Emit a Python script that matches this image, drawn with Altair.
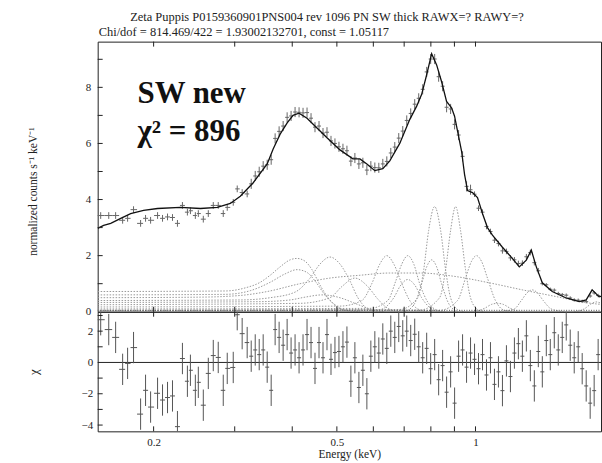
import altair as alt
import numpy as np
import pandas as pd

FONT = "Liberation Serif"
TITLE_1 = "Zeta Puppis P0159360901PNS004 rev 1096 PN SW thick RAWX=? RAWY=?"
TITLE_2 = "Chi/dof = 814.469/422 = 1.93002132701, const = 1.05117"
ANNOT_TEXT = ["SW new", "χ² = 896"]
ANNOT_E = [0.1845, 0.1845]
ANNOT_V = [7.43, 6.09]
Y_TITLE_TOP = "normalized counts s⁻¹ keV⁻¹"
Y_TITLE_RES = "χ"
X_TITLE = "Energy (keV)"

X_DOMAIN = [0.1512, 1.873]
Y_DOMAIN_TOP = [0, 9.63]
Y_DOMAIN_RES = [-4.4, 3.24]
X_TICKS = [0.2, 0.3, 0.4, 0.5, 0.6, 0.7, 0.8, 0.9, 1.0]
X_LABELS = [0.2, 0.5, 1]
Y_TICKS_TOP = [1, 2, 3, 4, 5, 6, 7, 8, 9]
Y_LABELS_TOP = [0, 2, 4, 6, 8]
Y_TICKS_RES = [-4, -3, -2, -1, 1, 2, 3]
Y_LABELS_RES = [-4, -2, 0, 2]

# observed spectrum (bin centre energy, normalized counts, error, chi residual)
data_e = [0.1535, 0.1598, 0.1654, 0.1713, 0.1756, 0.1809, 0.1874, 0.1921, 0.1970, 0.2040,
          0.2091, 0.2144, 0.2198, 0.2253, 0.2310, 0.2368, 0.2404, 0.2464, 0.2501, 0.2564,
          0.2629, 0.2695, 0.2763, 0.2833, 0.2890, 0.2978, 0.3038, 0.3114, 0.3193,
          0.3258, 0.3324, 0.3391, 0.3459, 0.3529, 0.3600, 0.3672, 0.3746, 0.3822, 0.3899,
          0.3977, 0.4057, 0.4139, 0.4222, 0.4307, 0.4394, 0.4482, 0.4573, 0.4665, 0.4759,
          0.4855, 0.4952, 0.5052, 0.5154, 0.5258, 0.5363, 0.5471, 0.5582, 0.5694, 0.5809,
          0.5926, 0.6045, 0.6167, 0.6291, 0.6418, 0.6547, 0.6679, 0.6813, 0.6951, 0.7091,
          0.7233, 0.7379, 0.7528, 0.7679, 0.7834, 0.7992, 0.8153, 0.8317, 0.8484, 0.8655,
          0.8830, 0.9008, 0.9189, 0.9374, 0.9563, 0.9755, 0.9952, 1.0152, 1.0357, 1.0565,
          1.0778, 1.0995, 1.1216, 1.1442, 1.1673, 1.1908, 1.2148, 1.2392, 1.2642, 1.2896,
          1.3156, 1.3421, 1.3691, 1.3967, 1.4248, 1.4535, 1.4828, 1.5127, 1.5431, 1.5742,
          1.6059, 1.6383, 1.6713, 1.7049, 1.7393, 1.7743, 1.8100, 1.8465]
data_v = [3.43, 3.43, 3.43, 3.26, 3.33, 3.64, 3.15, 3.33, 3.26, 3.43,
          3.33, 3.38, 3.36, 3.15, 3.79, 3.55, 3.60, 3.43, 3.50, 3.30,
          3.50, 3.79, 3.79, 3.50, 3.72, 3.90, 4.38, 4.25, 4.20,
          4.56, 4.84, 4.99, 5.19, 5.24, 5.42, 6.18, 6.43, 6.62, 6.93,
          6.98, 7.12, 7.11, 7.09, 7.10, 6.90, 6.58, 6.62, 6.37, 6.40,
          6.09, 6.00, 5.88, 5.81, 5.74, 5.37, 5.48, 5.27, 5.31, 5.05,
          5.19, 5.14, 5.13, 5.27, 5.36, 5.66, 5.87, 6.19, 6.44, 6.82,
          7.07, 7.40, 7.61, 7.93, 8.55, 9.01, 9.01, 8.38, 8.04, 7.29,
          7.23, 6.68, 6.30, 5.54, 4.47, 4.35, 4.19, 3.69, 3.55, 3.04,
          2.86, 2.55, 2.43, 2.17, 2.15, 1.92, 1.85, 1.72, 1.73, 1.96,
          2.11, 1.75, 1.46, 1.00, 0.96, 0.80, 0.77, 0.65, 0.61, 0.59,
          0.49, 0.42, 0.41, 0.37, 0.36, 0.56, 0.67, 0.58]
data_err = [0.12] * 29 + [0.18] * 56 + [0.10] * 17 + [0.06] * 15
chi_v = [2.73, 2.10, 1.60, -0.44, -0.06, 0.95, -3.30, -1.78, -2.85, -1.97,
         -2.40, -2.24, -2.14, -4.10, 0.25, -1.20, -0.50, -1.78, -1.27, -2.73,
         -0.70, 0.44, 0.32, -1.78, -0.38, -0.32, 3.05, 1.84, 1.27,
         0.4, 0.8, 0.5, 0.8, -0.3, -1.78, 2.1, 1.6, 1.1, 1.78,
         0.6, 0.8, 0.3, 0.8, 1.78, 1.27, -0.38, 1.27, 0.3, 1.78,
         0.2, 0.63, 0.7, 1.0, 1.3, -1.2, 0.3, -1.6, -0.5, -2.0,
         0.4, 1.0, 0.6, 1.5, 0.9, 2.0, 1.6, 2.3, 1.7, 2.0,
         1.4, 1.8, 1.0, 0.3, 0.9, -0.4, 0.5, -1.1, -0.2, -1.9,
         -0.6, -2.6, 0.4, 0.8, -0.3, 0.6, 0.2, -0.4, 0.5, -0.8,
         0.3, -1.4, -0.6, -1.8, 0.1, -0.9, 0.6, 1.2, 0.4, 1.7,
         -0.2, -1.5, 0.7, -0.6, 1.4, 0.5, 1.9, 0.8, 1.6, 2.4,
         1.1, 0.3, 1.0, -0.4, -1.5, -2.6, -1.8, 0.5]

# folded model
model_e = [0.1512, 0.1558, 0.1614, 0.1697, 0.1783, 0.1902, 0.2040, 0.2287, 0.2527, 0.2750,
           0.2935, 0.3085, 0.3291, 0.3529, 0.3636, 0.3765, 0.3900, 0.4016, 0.4138, 0.4307,
           0.4527, 0.4759, 0.5078, 0.5417, 0.5610, 0.5809, 0.6045, 0.6291, 0.6514, 0.6847,
           0.7197, 0.7452, 0.7640, 0.7834, 0.8031, 0.8234, 0.8441, 0.8653, 0.8872, 0.9006,
           0.9142, 0.9326, 0.9467, 0.9609, 0.9851, 1.0100, 1.0355, 1.0616, 1.0884, 1.1441,
           1.2023, 1.2447, 1.2893, 1.3218, 1.3554, 1.3966, 1.4678, 1.5736, 1.6797, 1.7393,
           1.7918, 1.8558, 1.8734]
model_v = [2.97, 3.08, 3.15, 3.33, 3.50, 3.61, 3.68, 3.72, 3.68, 3.72,
           3.86, 4.12, 4.60, 5.27, 5.80, 6.33, 6.73, 7.00, 7.08, 6.90,
           6.55, 6.20, 5.77, 5.45, 5.45, 5.27, 5.03, 5.10, 5.38, 6.00,
           6.85, 7.33, 7.75, 8.45, 9.20, 8.80, 8.20, 7.50, 7.27, 6.97,
           6.44, 5.73, 4.90, 4.32, 4.25, 4.07, 3.50, 3.00, 2.73, 2.30,
           1.90, 1.60, 1.84, 2.20, 1.60, 1.03, 0.72, 0.49, 0.36, 0.42,
           0.78, 0.53, 0.55]

# model components (dotted)
comp_e = [
    [0.1512, 0.2862, 0.3162, 0.3408, 0.3582, 0.3765, 0.3958, 0.4098, 0.4265, 0.4415, 0.4596, 0.4782, 0.4977, 0.5205, 0.5610],
    [0.1512, 0.2862, 0.3242, 0.3582, 0.3860, 0.4098, 0.4307, 0.4482, 0.4711, 0.4952, 0.5205, 0.5610],
    [0.1512, 0.2527, 0.3085, 0.3529, 0.4160, 0.4831, 0.5610, 0.6514, 0.7565, 0.9096, 1.0723, 1.2638, 1.4970, 1.7654, 1.8734],
    [0.1512, 0.3085, 0.3582, 0.4057, 0.4372, 0.4596, 0.4831, 0.5078, 0.5337, 0.5554, 0.5777, 0.6045, 0.6355],
    [0.1512, 0.4160, 0.4831, 0.5128, 0.5471, 0.5835, 0.6137, 0.6450, 0.6847],
    [0.1512, 0.5078, 0.5665, 0.5954, 0.6198, 0.6418, 0.6647, 0.6918, 0.7197, 0.7491, 0.7873],
    [0.1512, 0.5896, 0.6450, 0.6713, 0.6918, 0.7128, 0.7344, 0.7565, 0.7873, 0.8193, 0.8569],
    [0.1512, 0.6198, 0.6647, 0.6884, 0.7128, 0.7380, 0.7640, 0.7951, 0.8357],
    [0.1512, 0.6847, 0.7491, 0.7718, 0.7912, 0.8152, 0.8400, 0.8611, 0.8829, 0.9142, 0.9467],
    [0.1512, 0.7565, 0.8357, 0.8611, 0.8829, 0.9052, 0.9279, 0.9514, 0.9754, 1.0100, 1.0459],
    [0.7022, 0.7380, 0.7640, 0.7834, 0.8031, 0.8234, 0.8441, 0.8740, 0.9142],
    [0.1512, 0.8357, 0.9142, 0.9514, 0.9803, 1.0050, 1.0304, 1.0616, 1.1047, 1.1555, 1.2146],
    [1.1270, 1.2146, 1.2575, 1.2956, 1.3283, 1.3618, 1.4030, 1.4603, 1.5582],
    [1.6379, 1.7218, 1.7830, 1.8276, 1.8734],
    [0.9950, 1.0459, 1.0830, 1.1160, 1.1498, 1.1906, 1.2447],
    [0.1512, 0.3408, 0.3958, 0.4265, 0.4642, 0.5078, 0.5471, 0.5896, 0.6355],
]
comp_v = [
    [0.72, 0.74, 0.85, 1.05, 1.3, 1.6, 1.85, 1.9, 1.8, 1.5, 0.95, 0.5, 0.2, 0.05, 0.0],
    [0.6, 0.62, 0.75, 1.05, 1.35, 1.5, 1.4, 1.1, 0.6, 0.25, 0.06, 0.0],
    [0.5, 0.52, 0.58, 0.72, 1.0, 1.2, 1.3, 1.38, 1.38, 1.25, 1.03, 0.78, 0.54, 0.31, 0.26],
    [0.4, 0.42, 0.5, 0.7, 1.2, 1.7, 1.95, 1.7, 1.1, 0.5, 0.15, 0.02, 0.0],
    [0.25, 0.3, 0.5, 0.9, 1.2, 0.9, 0.45, 0.12, 0.0],
    [0.17, 0.2, 0.4, 1.0, 1.7, 2.0, 1.7, 1.0, 0.4, 0.1, 0.0],
    [0.1, 0.12, 0.4, 1.1, 1.7, 2.0, 1.7, 1.0, 0.35, 0.08, 0.0],
    [0.05, 0.08, 0.5, 0.95, 1.15, 0.95, 0.5, 0.15, 0.0],
    [0.05, 0.08, 0.5, 1.5, 2.9, 3.75, 2.9, 1.5, 0.5, 0.08, 0.0],
    [0.04, 0.06, 0.5, 1.5, 2.9, 3.75, 2.9, 1.5, 0.5, 0.08, 0.0],
    [0.0, 0.3, 1.0, 1.6, 1.85, 1.6, 1.0, 0.3, 0.0],
    [0.03, 0.05, 0.4, 1.2, 1.8, 2.0, 1.8, 1.2, 0.4, 0.05, 0.0],
    [0.0, 0.1, 0.4, 0.68, 0.78, 0.68, 0.4, 0.1, 0.0],
    [0.0, 0.1, 0.28, 0.35, 0.3],
    [0.0, 0.12, 0.26, 0.3, 0.26, 0.12, 0.0],
    [0.33, 0.36, 0.42, 0.52, 0.6, 0.5, 0.3, 0.1, 0.0],
]
baseline_e = [0.1512, 1.8734]
baseline_v = [0.05, 0.05]

W, H_TOP, H_RES = 505, 271, 120
TICK = 5
INK = "#222222"

# ---- tables -------------------------------------------------------------
e = np.array(data_e)
mids = np.sqrt(e[:-1] * e[1:])
lo = np.concatenate([[e[0] ** 2 / mids[0]], mids])
hi = np.concatenate([mids, [e[-1] ** 2 / mids[-1]]])
v = np.array(data_v)
err = np.array(data_err)
chi = np.array(chi_v)
df = pd.DataFrame({"e": e, "lo": lo, "hi": hi, "v": v, "vlo": v - err, "vhi": v + err,
                   "chi": chi, "clo": chi - 1, "chi_hi": chi + 1})
model_df = pd.DataFrame({"e": model_e, "v": model_v})
comp_df = pd.concat([pd.DataFrame({"c": i, "e": ce, "v": cv})
                     for i, (ce, cv) in enumerate(zip(comp_e, comp_v))], ignore_index=True)
base_df = pd.DataFrame({"e": baseline_e, "v": baseline_v})
annot_df = pd.DataFrame({"e": ANNOT_E, "v": ANNOT_V, "t": ANNOT_TEXT})
xt_df = pd.DataFrame({"e": X_TICKS})
ytt_df = pd.DataFrame({"v": Y_TICKS_TOP})
ytr_df = pd.DataFrame({"v": Y_TICKS_RES})

xscale = alt.Scale(type="log", domain=X_DOMAIN, nice=False)
ytop_scale = alt.Scale(domain=Y_DOMAIN_TOP, nice=False, zero=False)
yres_scale = alt.Scale(domain=Y_DOMAIN_RES, nice=False, zero=False)

ytop_axis = alt.Axis(values=Y_LABELS_TOP, title=Y_TITLE_TOP, titleX=-64, titleY=150,
                     titleAngle=270, titleAlign="center", titleBaseline="middle",
                     titleFontSize=11.5, labelPadding=7)
yres_axis = alt.Axis(values=Y_LABELS_RES, title=Y_TITLE_RES, titleX=-64, titleY=H_RES / 2,
                     titleAngle=270, titleAlign="center", titleBaseline="middle",
                     titleFontSize=13, labelPadding=5, format="d")
xres_axis = alt.Axis(values=X_LABELS, format="~g", title=X_TITLE, titleFontSize=11.5,
                     labelPadding=5, titlePadding=1, labelFlush=False)


def xtop(field):
    return alt.X(field, type="quantitative", scale=xscale, axis=None)


def ytop(field):
    return alt.Y(field, type="quantitative", scale=ytop_scale, axis=ytop_axis)


def xres(field):
    return alt.X(field, type="quantitative", scale=xscale, axis=xres_axis)


def yres(field):
    return alt.Y(field, type="quantitative", scale=yres_scale, axis=yres_axis)


# ---- top panel ------------------------------------------------------------
comps = alt.Chart(comp_df).mark_line(color="#9a9a9a", strokeWidth=1, strokeDash=[1.5, 1.5],
                                     interpolate="monotone", clip=True).encode(
    x=xtop("e"), y=ytop("v"), detail="c:N")
base = alt.Chart(base_df).mark_line(color="#555555", strokeWidth=1, strokeDash=[1, 1.5],
                                    clip=True).encode(x=xtop("e"), y=ytop("v"))
xbars = alt.Chart(df).mark_rule(color="#666666", strokeWidth=1, clip=True).encode(
    x=xtop("lo"), x2="hi", y=ytop("v"))
ybars = alt.Chart(df).mark_rule(color="#666666", strokeWidth=1, clip=True).encode(
    x=xtop("e"), y=ytop("vlo"), y2="vhi")
model = alt.Chart(model_df).mark_line(color="#111111", strokeWidth=1.3, clip=True).encode(
    x=xtop("e"), y=ytop("v"))
annot = alt.Chart(annot_df).mark_text(font="Liberation Serif, Times New Roman, serif", fontSize=31,
                                      fontWeight="bold", color="#111111",
                                      align="left", baseline="alphabetic").encode(
    x=xtop("e"), y=ytop("v"), text="t:N")
tt_top = alt.Chart(xt_df).mark_rule(color=INK).encode(x=xtop("e"), y=alt.value(0), y2=alt.value(TICK))
tt_bot = alt.Chart(xt_df).mark_rule(color=INK).encode(x=xtop("e"), y=alt.value(H_TOP), y2=alt.value(H_TOP - TICK))
tt_left = alt.Chart(ytt_df).mark_rule(color=INK).encode(y=ytop("v"), x=alt.value(0), x2=alt.value(TICK))
title1 = alt.Chart(pd.DataFrame({"t": [TITLE_1]})).mark_text(
    font=FONT, fontSize=12.5, color=INK, align="center", baseline="middle").encode(
    text="t:N", x=alt.value(230), y=alt.value(-25))
title2 = alt.Chart(pd.DataFrame({"t": [TITLE_2]})).mark_text(
    font=FONT, fontSize=12.5, color=INK, align="left", baseline="middle").encode(
    text="t:N", x=alt.value(1), y=alt.value(-10))

top = alt.layer(comps, base, xbars, ybars, model, annot, tt_top, tt_bot, tt_left,
                title1, title2).properties(width=W, height=H_TOP)

# ---- residual panel -------------------------------------------------------
zero = alt.Chart(pd.DataFrame({"z": [0]})).mark_rule(color=INK, strokeWidth=1).encode(y=yres("z"))
rx = alt.Chart(df).mark_rule(color="#555555", strokeWidth=1, clip=True).encode(
    x=xres("lo"), x2="hi", y=yres("chi"))
ry = alt.Chart(df).mark_rule(color="#555555", strokeWidth=1, clip=True).encode(
    x=xres("e"), y=yres("clo"), y2="chi_hi")
rt_top = alt.Chart(xt_df).mark_rule(color=INK).encode(x=xres("e"), y=alt.value(0), y2=alt.value(TICK))
rt_bot = alt.Chart(xt_df).mark_rule(color=INK).encode(x=xres("e"), y=alt.value(H_RES), y2=alt.value(H_RES - TICK))
rt_left = alt.Chart(ytr_df).mark_rule(color=INK).encode(y=yres("v"), x=alt.value(0), x2=alt.value(TICK))

bottom = alt.layer(zero, rx, ry, rt_top, rt_bot, rt_left).properties(width=W, height=H_RES)

chart = alt.vconcat(top, bottom, spacing=0, bounds="flush").properties(
    padding={"left": 27, "top": 9, "right": 0, "bottom": 0},
    background="white",
).configure_view(stroke=INK, strokeWidth=1).configure_axis(
    labelFont=FONT, titleFont=FONT, labelFontSize=11, titleFontWeight="normal",
    labelColor=INK, titleColor=INK, ticks=False, domain=False, grid=False,
)

chart.save("out.html", embed_options={"renderer": "svg", "actions": False})
